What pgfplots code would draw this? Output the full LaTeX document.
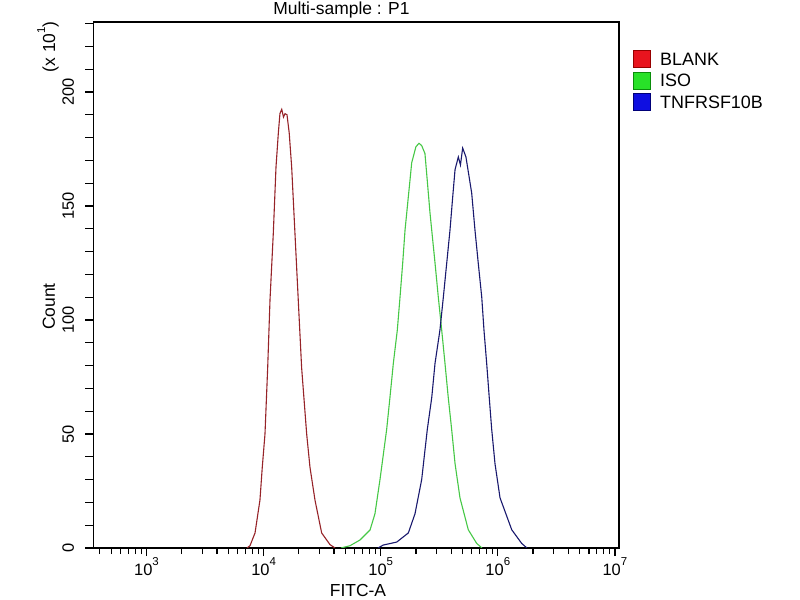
\documentclass[border=0pt]{standalone}
\usepackage{pgfplots}
\pgfplotsset{compat=1.18}
\usepackage{pgfplotstable}
\usepackage{fontspec}
\setmainfont{Liberation Sans}
\definecolor{cred}{RGB}{150,35,40}
\definecolor{cgreen}{RGB}{70,200,70}
\definecolor{cblue}{RGB}{25,25,110}
\definecolor{lred}{RGB}{232,20,30}
\definecolor{lredb}{RGB}{150,0,0}
\definecolor{lgreen}{RGB}{40,225,40}
\definecolor{lgreenb}{RGB}{10,140,10}
\definecolor{lblue}{RGB}{15,15,225}
\definecolor{lblueb}{RGB}{0,0,120}
\newcommand{\sups}[1]{\raisebox{10bp}{\fontsize{11.5}{12}\selectfont #1}}

\pgfplotstableread{
lx cnt
3.858 0
3.884 1
3.927 6.6
3.969 21
3.989 35.5
4.012 50
4.035 79
4.055 109
4.083 138
4.106 167
4.126 182
4.140 190.6
4.155 192.4
4.170 189
4.183 190.5
4.200 190
4.219 182
4.240 167
4.268 138
4.296 109
4.325 79
4.368 50
4.396 35.5
4.439 21
4.496 6.6
4.567 1.5
4.610 0
}\blank

\pgfplotstableread{
lx cnt
4.661 0
4.738 1
4.823 3.5
4.909 7.9
4.951 15
4.994 30
5.051 52
5.079 66
5.108 81
5.142 95.6
5.165 110
5.188 125
5.208 139.5
5.236 154
5.265 169
5.301 176
5.327 177.5
5.350 176.5
5.378 173
5.398 161
5.421 147
5.464 125
5.492 110
5.521 95.6
5.549 81
5.577 66
5.606 52
5.635 37
5.677 22
5.748 8
5.820 2
5.865 0
}\iso

\pgfplotstableread{
lx cnt
4.977 0
5.022 1.3
5.137 2.6
5.236 6.6
5.293 15
5.350 30
5.398 52
5.436 66
5.464 81
5.506 95.6
5.535 110
5.564 125
5.592 139.5
5.615 154
5.635 166
5.663 171.5
5.681 168
5.700 175.4
5.728 171.5
5.777 155.7
5.805 139.5
5.833 125
5.863 110
5.882 95.6
5.905 81
5.927 66
5.948 52
5.976 37
6.019 22
6.119 8
6.204 2
6.249 0
}\tnf

\begin{document}
\begin{tikzpicture}
\useasboundingbox (0,0) rectangle (800bp,600bp);
\fill[white] (0,0) rectangle (800bp,600bp);
\begin{axis}[
  at={(93.3bp,52bp)}, anchor=south west,
  scale only axis, width=525.7bp, height=526bp,
  xmode=log, log basis x=10,
  xmin=351.6, xmax=1.0839e7,
  ymin=0, ymax=230.7,
  axis line style={line width=1.4bp, black},
  tick align=outside, xtick pos=bottom, ytick pos=left,
  major tick length=8bp, minor tick length=6bp,
  tick style={black, line width=1.2bp},
  xtick={1e3,1e4,1e5,1e6,1e7},
  xticklabels={10\sups{3},10\sups{4},10\sups{5},10\sups{6},10\sups{7}},
  minor xtick={400,500,600,700,800,900,2000,3000,4000,5000,6000,7000,8000,9000,2e4,3e4,4e4,5e4,6e4,7e4,8e4,9e4,2e5,3e5,4e5,5e5,6e5,7e5,8e5,9e5,2e6,3e6,4e6,5e6,6e6,7e6,8e6,9e6},
  ytick={0,10,...,230},
  yticklabels={0,,,,,50,,,,,100,,,,,150,,,,,200,,,},
  ticklabel style={font=\fontsize{16.5}{19}\selectfont, inner sep=0pt},
  xticklabel style={anchor=base, yshift=-19bp},
  yticklabel style={xshift=-11.5bp, rotate=90, anchor=base},
  every axis title shift=0pt,
  title={Multi-sample : P1},
  title style={at={(0.472,1.0133)}, anchor=base, inner sep=0pt, font=\fontsize{17.5}{20}\selectfont},
  xlabel={FITC-A},
  xlabel style={at={(0.5035,-0.0913)}, anchor=base, inner sep=0pt, font=\fontsize{17.5}{20}\selectfont},
  ylabel={Count},
  ylabel style={at={(-0.0729,0.4591)}, anchor=base, inner sep=0pt, font=\fontsize{17.5}{20}\selectfont},
  legend style={at={(1.0267,0.9468)}, anchor=north west, draw=none, fill=none,
    inner sep=0pt, font=\fontsize{18}{21}\selectfont, row sep=3bp, column sep=7bp},
  legend cell align=left,
]
\addlegendimage{legend image code/.code={\filldraw[fill=lred,draw=lredb,line width=1bp] (0bp,-8bp) rectangle (17bp,9bp);}}
\addlegendentry{BLANK}
\addlegendimage{legend image code/.code={\filldraw[fill=lgreen,draw=lgreenb,line width=1bp] (0bp,-8bp) rectangle (17bp,9bp);}}
\addlegendentry{ISO}
\addlegendimage{legend image code/.code={\filldraw[fill=lblue,draw=lblueb,line width=1bp] (0bp,-8bp) rectangle (17bp,9bp);}}
\addlegendentry{TNFRSF10B}
\addplot[cred, line width=1.1bp, forget plot] table[x expr={10^(\thisrow{lx})}, y=cnt] {\blank};
\addplot[cgreen, line width=1.1bp, forget plot] table[x expr={10^(\thisrow{lx})}, y=cnt] {\iso};
\addplot[cblue, line width=1.1bp, forget plot] table[x expr={10^(\thisrow{lx})}, y=cnt] {\tnf};
\end{axis}
\node[rotate=90, anchor=base, inner sep=0pt, font=\fontsize{17.5}{20}\selectfont] at (55bp,553.3bp) {(x 10\sups{1})};
\end{tikzpicture}
\end{document}
